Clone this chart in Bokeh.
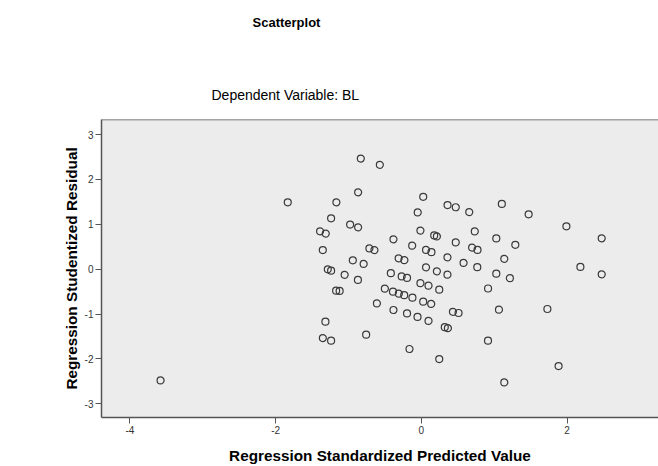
from bokeh.plotting import figure
from bokeh.models import Range1d, FixedTicker, Span, Title
from bokeh.embed import file_html
from bokeh.resources import INLINE

# Regression standardized predicted values (x) and studentized residuals (y)
pred = [-0.830, -0.569, -0.867, -1.833, -1.165, -1.238, -0.977, -0.867, -1.389, -1.311,
        -1.352, -0.940, -0.791, -1.283, -1.238, -1.052, -0.870, -1.169, -1.121, -1.316,
        -1.351, -1.238, -0.757, -3.578, -0.609, -0.500, -0.389, -0.308, -0.235, -0.122,
        -0.382, -0.196, -0.052, -0.162, 0.246, -0.382, -0.125, -0.712, -0.643, -0.311,
        -0.232, -0.418, -0.269, -0.196, -0.012, 0.099, 0.246, 0.026, 0.136, 0.099,
        0.434, 0.511, 0.322, 0.365, 0.026, -0.049, 0.360, 0.473, 0.658, 1.105,
        1.473, 1.991, 2.476, -0.012, 0.177, 0.214, 0.734, 0.473, 1.029, 1.290,
        0.065, 0.139, 0.697, 0.771, 0.359, 0.580, 0.768, 1.139, 2.183, 2.476,
        0.065, 0.214, 0.359, 1.029, 1.215, 0.916, 1.066, 1.730, 0.915, 1.884,
        1.139]
resid = [2.465, 2.324, 1.713, 1.490, 1.490, 1.133, 0.993, 0.932, 0.843, 0.792,
         0.424, 0.196, 0.116, -0.004, -0.033, -0.127, -0.241, -0.480, -0.486, -1.171,
         -1.535, -1.595, -1.461, -2.480, -0.763, -0.435, -0.502, -0.547, -0.580, -0.636,
         -0.910, -0.986, -1.064, -1.780, -2.003, 0.665, 0.524, 0.462, 0.424, 0.241,
         0.201, -0.089, -0.163, -0.196, -0.312, -0.368, -0.457, -0.725, -0.776, -1.153,
         -0.952, -0.977, -1.294, -1.316, 1.611, 1.265, 1.428, 1.379, 1.271, 1.454,
         1.222, 0.955, 0.687, 0.859, 0.752, 0.729, 0.841, 0.596, 0.685, 0.542,
         0.428, 0.379, 0.480, 0.428, 0.263, 0.138, 0.045, 0.230, 0.049, -0.116,
         0.040, -0.049, -0.123, -0.100, -0.201, -0.431, -0.903, -0.888, -1.595, -2.159,
         -2.525]

x_ticks = [-4, -2, 0, 2]
y_ticks = [-3, -2, -1, 0, 1, 2, 3]

main_title = "Scatterplot"
sub_title = "Dependent Variable: BL"
x_label = "Regression Standardized Predicted Value"
y_label = "Regression Studentized Residual"

FONT = "Liberation Sans"

p = figure(width=658, height=466, output_backend="svg", toolbar_location=None,
           x_range=Range1d(-4.389, 3.255), y_range=Range1d(-3.306, 3.335),
           min_border_left=101, min_border_top=119, min_border_bottom=48, min_border_right=0)

p.background_fill_color = "#ececec"
p.border_fill_color = "white"
p.outline_line_color = None
p.xgrid.visible = False
p.ygrid.visible = False

for ax in (p.xaxis[0], p.yaxis[0]):
    ax.axis_line_color = "#555555"
    ax.axis_line_width = 1.5
    ax.major_tick_line_color = "#555555"
    ax.major_tick_out = 6
    ax.major_tick_in = 0
    ax.minor_tick_line_color = None
    ax.major_label_text_font = FONT
    ax.major_label_text_font_size = "10px"
    ax.major_label_text_color = "#333333"
    ax.major_label_standoff = 2
    ax.axis_label_text_font = FONT
    ax.axis_label_text_font_size = "15.3px"
    ax.axis_label_text_font_style = "bold"
    ax.axis_label_text_color = "black"

p.xaxis.ticker = FixedTicker(ticks=x_ticks)
p.yaxis.ticker = FixedTicker(ticks=y_ticks)
p.xaxis.major_label_overrides = {t: str(t) for t in x_ticks}
p.yaxis.major_label_overrides = {t: str(t) for t in y_ticks}

p.xaxis.axis_label = x_label
p.xaxis.axis_label_standoff = 10
p.yaxis.axis_label = y_label
p.yaxis.axis_label_standoff = 2

# top border of the frame
p.add_layout(Span(location=3.335, dimension="width", line_color="#555555", line_width=1.5))

p.scatter(pred, resid, marker="circle", size=7, fill_color=None,
          line_color="#3a3a3a", line_width=1.2)

# titles, stacked outward from the frame: spacer, sub-title, spacer, main title
p.add_layout(Title(text=" ", align="left", text_font=FONT, text_font_size="0.3px"), "above")
p.add_layout(Title(text=sub_title, align="left", offset=110, text_font=FONT,
                   text_font_size="14px", text_font_style="normal", text_color="black"), "above")
p.add_layout(Title(text=" ", align="left", text_font=FONT, text_font_size="30px"), "above")
p.add_layout(Title(text=main_title, align="left", offset=151, text_font=FONT,
                   text_font_size="13px", text_font_style="bold", text_color="black"), "above")

open("out.html", "w").write(file_html(p, INLINE))
